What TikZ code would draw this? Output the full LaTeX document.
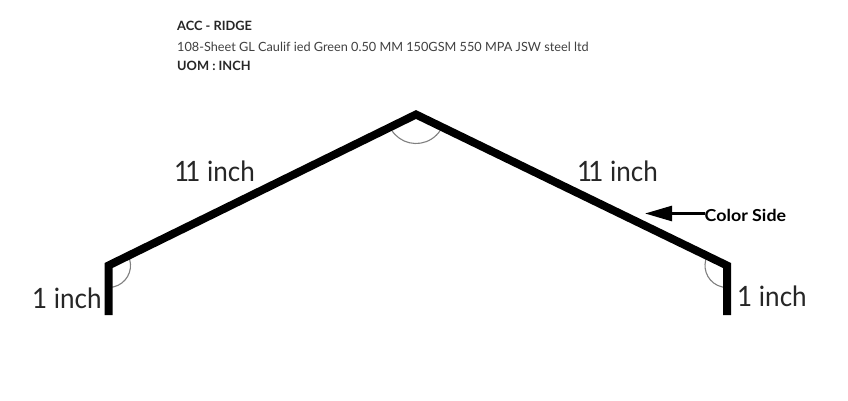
\documentclass[tikz,border=0pt]{standalone}
\usepackage{fontspec}
\setmainfont{Lato}
\newfontfamily\dimfont[FakeStretch=0.93]{Lato}
\newfontfamily\sidefont[FakeStretch=1.08]{Lato}
\usetikzlibrary{arrows.meta}
\tikzset{
  dimlabel/.style={inner sep=0pt,anchor=base west,font=\dimfont\fontsize{28}{28}\selectfont,text=black!85},
  headbold/.style={inner sep=0pt,anchor=base west,font=\fontsize{12.8}{13}\selectfont\bfseries,text=black!85},
  headlight/.style={inner sep=0pt,anchor=base west,font=\fontsize{12.7}{13}\selectfont,text=black!75},
  sheet/.style={line width=8pt,line join=miter,line cap=butt,draw=black},
  anglearc/.style={draw=black!50,line width=1.1pt},
  pointer/.style={line width=2.6pt,-{Triangle[length=27pt,width=15pt]}}
}
\begin{document}
\begin{tikzpicture}[x=1pt,y=-1pt]
\useasboundingbox (0,0) rectangle (848,401);
\fill[white] (0,0) rectangle (848,401);
\coordinate (lb) at (108.5,315);
\coordinate (lk) at (108.5,265.5);
\coordinate (ap) at (416,114.5);
\coordinate (rk) at (727,265.5);
\coordinate (rb) at (727,315);
\draw[anglearc] (ap) ++(212:29pt) arc[start angle=212,end angle=328,radius=29pt];
\draw[anglearc] (lk) ++(26:22pt) arc[start angle=26,end angle=-90,radius=22pt];
\draw[anglearc] (rk) ++(154:22pt) arc[start angle=154,end angle=270,radius=22pt];
\draw[sheet] (lb) -- (lk) -- (ap) -- (rk) -- (rb);
\node[headbold] (t1) at (177,30.5) {ACC - RIDGE};
\node[headlight] (t2) at (177,51.5) {108-Sheet GL Caulif ied Green 0.50 MM 150GSM 550 MPA JSW steel ltd};
\node[headbold] (t3) at (177,70.5) {UOM : INCH};
\node[dimlabel] (a) at (174,181) {1\kern-4pt 1 inch};
\node[dimlabel] (b) at (577,181) {1\kern-4pt 1 inch};
\node[dimlabel] (c) at (32,308) {1 inch};
\node[dimlabel] (d) at (737,306) {1 inch};
\node[inner sep=0pt,anchor=base west,font=\sidefont\fontsize{16.5}{16.5}\selectfont\bfseries] (cs) at (704.5,221) {Color Side};
\coordinate (tip) at (645,213.5);
\draw[pointer] (cs.west |- tip) -- (tip);
\end{tikzpicture}
\end{document}
